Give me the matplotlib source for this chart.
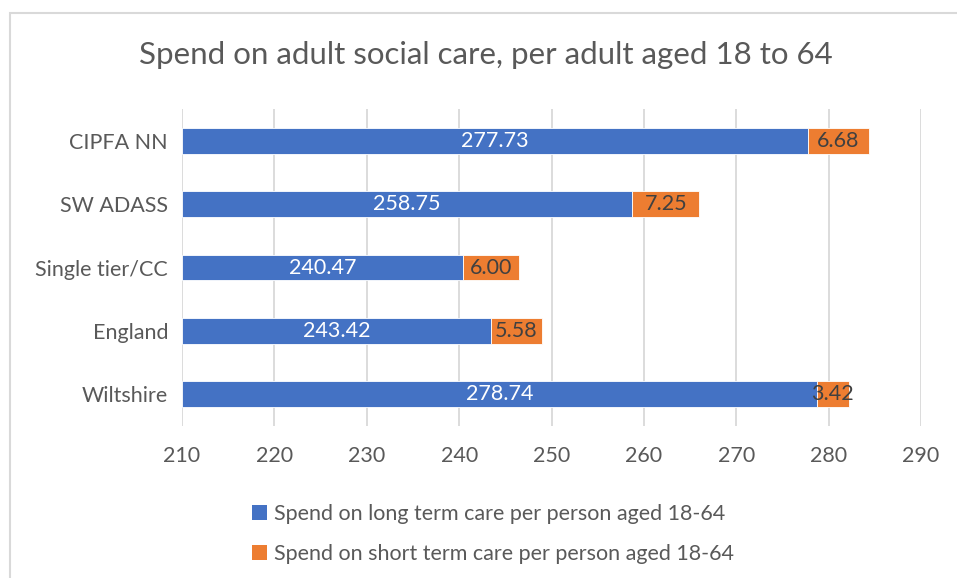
import matplotlib
matplotlib.use("Agg")
import matplotlib.pyplot as plt
from matplotlib.patches import Rectangle, Patch

categories = ["Wiltshire", "England", "Single tier/CC", "SW ADASS", "CIPFA NN"]
long_term = [278.74, 243.42, 240.47, 258.75, 277.73]
short_term = [3.42, 5.58, 6.00, 7.25, 6.68]
series_names = ["Spend on long term care per person aged 18-64",
                "Spend on short term care per person aged 18-64"]
title = "Spend on adult social care, per adult aged 18 to 64"
x_min, x_max, x_step = 210, 290, 10

plt.rcParams['font.family'] = ['Lato', 'DejaVu Sans']

blue = "#4472C4"
orange = "#ED7D31"
txt = "#595959"
dark = "#404040"

fig = plt.figure(figsize=(9.57, 5.78), dpi=100)
ax = fig.add_axes([182/957, 1-425.6/578, (921-182)/957, (425.6-109.4)/578])

y = list(range(len(categories)))
base = [x_min]*len(categories)
lt_w = [v - x_min for v in long_term]
ax.barh(y, lt_w, left=base, height=0.41, color=blue, edgecolor="white", linewidth=0.6, zorder=3)
ax.barh(y, short_term, left=long_term, height=0.41, color=orange, edgecolor="white", linewidth=0.6, zorder=3)

for yi, l, s in zip(y, long_term, short_term):
    ax.text((x_min + l)/2, yi, f"{l:.2f}", ha="center", va="center", color="white", fontsize=15.5, zorder=4)
    ax.text(l + s/2, yi, f"{s:.2f}", ha="center", va="center", color=dark, fontsize=15.5, zorder=4)

ax.set_xlim(x_min, x_max)
ax.set_ylim(-0.5, len(categories)-0.5)
ax.set_xticks(range(x_min, x_max+1, x_step))
ax.set_yticks(y)
ax.set_yticklabels(categories)
ax.tick_params(axis='both', length=0, labelsize=15.5, labelcolor=txt)
ax.tick_params(axis='x', pad=15)
ax.tick_params(axis='y', pad=10)
ax.grid(axis='x', color="#D9D9D9", linewidth=1.3, zorder=0)
for sp in ax.spines.values():
    sp.set_visible(False)

fig.text(486/957, 1-55/578, title, ha="center", va="center", fontsize=22.5, color=txt)

# chart border
fig.add_artist(Rectangle((9.5/957, -0.1), 1.2, 1-13.5/578+0.1, transform=fig.transFigure,
                         fill=False, edgecolor="#D9D9D9", linewidth=1.5))

handles = [Patch(facecolor=blue), Patch(facecolor=orange)]
fig.legend(handles, series_names, loc="upper left", bbox_to_anchor=(243/957, 1-495/578),
           frameon=False, fontsize=15.5, labelcolor=txt, handlelength=0.7, handleheight=0.7,
           handletextpad=0.35, labelspacing=0.95, borderaxespad=0)

fig.savefig("out.png", dpi=100)
